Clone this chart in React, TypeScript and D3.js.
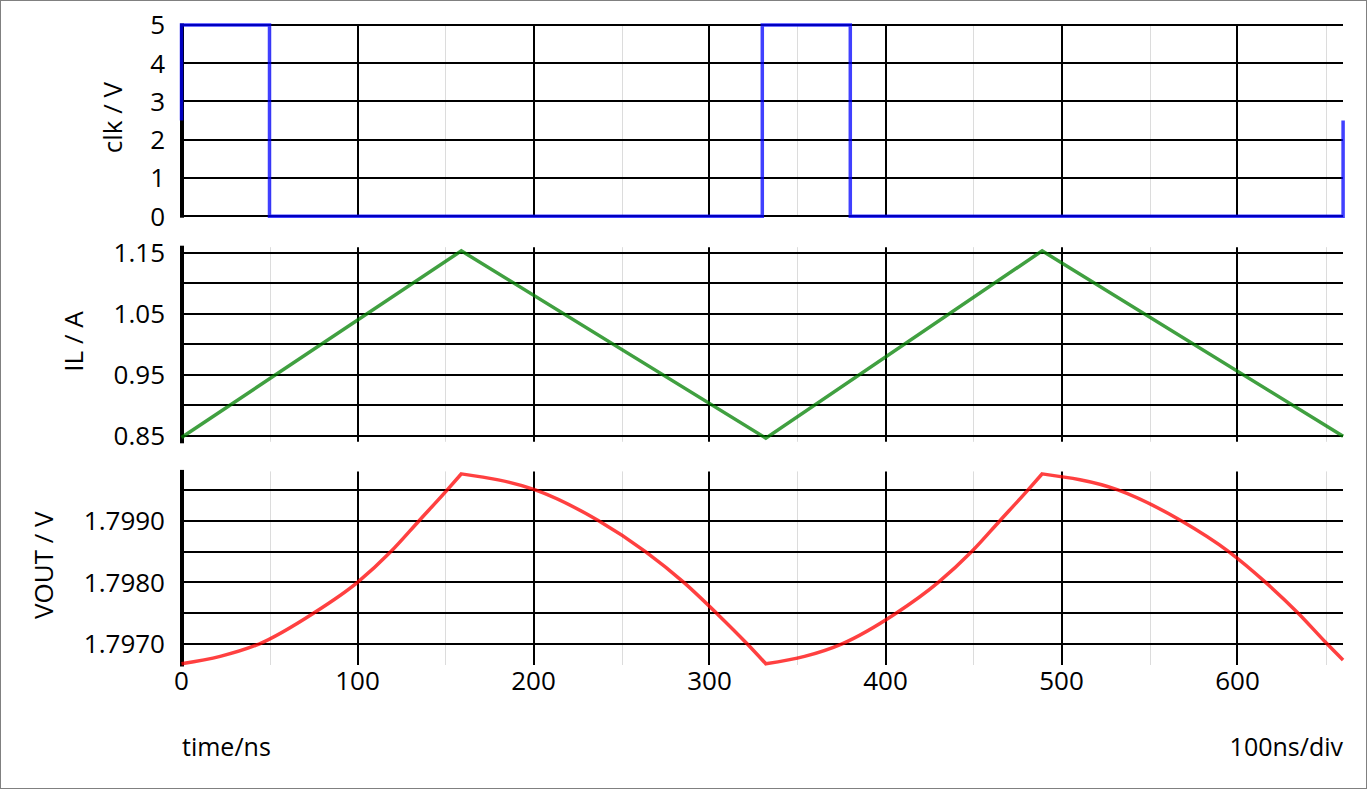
import React from "react";
import * as d3 from "d3";

const W = 1369;
const H = 790;

// time axis
const xTicks = [0, 100, 200, 300, 400, 500, 600];
const xMinorTicks = [50, 150, 250, 350, 450, 550, 650];

// clk
const clkT = [0, 0, 50, 50, 330, 330, 380, 380, 660, 660];
const clkV = [2.5, 5, 5, 0, 0, 5, 5, 0, 0, 2.5];
const clkGrid = [0, 1, 2, 3, 4, 5];
const clkLabels = [0, 1, 2, 3, 4, 5];

// IL
const ilT = [0, 159, 332, 489, 660];
const ilV = [0.847, 1.153, 0.846, 1.153, 0.849];
const ilGrid = [0.85, 0.9, 0.95, 1.0, 1.05, 1.1, 1.15];
const ilLabels = [0.85, 0.95, 1.05, 1.15];

// VOUT (segments split at turning points)
const voT = [
  0, 22, 44, 75, 100, 119, 135, 151, 159,
  201, 237, 263.6, 285.4, 304, 321.5, 332,
  354, 375, 406, 430, 449, 465, 481, 489,
  532, 568, 595, 616, 634.5, 651, 660,
];
const voV = [
  1.79668, 1.7968, 1.797, 1.7975, 1.798, 1.7985, 1.799, 1.7995, 1.79976,
  1.7995, 1.799, 1.7985, 1.798, 1.7975, 1.797, 1.79668,
  1.7968, 1.797, 1.7975, 1.798, 1.7985, 1.799, 1.7995, 1.79976,
  1.7995, 1.799, 1.7985, 1.798, 1.7975, 1.797, 1.79674,
];
const voBreaks = [8, 15, 23];
const voGrid = [1.797, 1.7975, 1.798, 1.7985, 1.799, 1.7995];
const voLabels = [1.797, 1.798, 1.799];

const FONT = "'Open Sans', 'Noto Sans', sans-serif";

type Panel = {
  title: string;
  titleX: number;
  domain: [number, number];
  range: [number, number];
  grid: number[];
  labels: number[];
  fmt: (v: number) => string;
  t: number[];
  v: number[];
  breaks: number[];
  color: string;
  curve: any;
};

export default function App() {
  const x = d3.scaleLinear().domain([0, 660]).range([181.5, 1343.1]);
  const x0 = 182;
  const x1 = 1343;

  const panels: Panel[] = [
    {
      title: "clk / V",
      titleX: 122,
      domain: [0, 5],
      range: [216.2, 25],
      grid: clkGrid,
      labels: clkLabels,
      fmt: d3.format("d"),
      t: clkT,
      v: clkV,
      breaks: [],
      color: "#0000ff",
      curve: d3.curveLinear,
    },
    {
      title: "IL / A",
      titleX: 83,
      domain: [0.84, 1.159],
      range: [441.8, 247.2],
      grid: ilGrid,
      labels: ilLabels,
      fmt: d3.format(".2f"),
      t: ilT,
      v: ilV,
      breaks: [],
      color: "#008000",
      curve: d3.curveLinear,
    },
    {
      title: "VOUT / V",
      titleX: 53,
      domain: [1.79666, 1.7998],
      range: [665, 471.4],
      grid: voGrid,
      labels: voLabels,
      fmt: d3.format(".4f"),
      t: voT,
      v: voV,
      breaks: voBreaks,
      color: "#ff0000",
      curve: d3.curveMonotoneX,
    },
  ];

  return (
    <svg
      width={W}
      height={H}
      style={{ position: "fixed", left: 0, top: 0, background: "#fff" }}
      fontFamily={FONT}
    >
      <rect x={0} y={0} width={W} height={H} fill="#fff" />
      <rect x={0.5} y={0.5} width={1366} height={788} fill="none" stroke="#808080" strokeWidth={1} />
      {panels.map((p, i) => {
        const y = d3.scaleLinear().domain(p.domain).range(p.range);
        const top = p.range[1];
        const bot = p.range[0];
        const pts = p.t.map((t, k) => [t, p.v[k]] as [number, number]);
        const line = d3
          .line<[number, number]>()
          .x((d) => x(d[0]))
          .y((d) => y(d[1]))
          .curve(p.curve);
        const cuts = [0, ...p.breaks, pts.length - 1];
        let d = "";
        for (let s = 0; s < cuts.length - 1; s++) {
          const seg = pts.slice(cuts[s], cuts[s + 1] + 1);
          const part = line(seg) || "";
          d += s === 0 ? part : part.replace(/^M/, "L");
        }
        const cy = (top + bot) / 2 - 3;
        return (
          <g key={i}>
            {xMinorTicks.map((t) => (
              <line key={"m" + t} x1={Math.round(x(t)) + 0.5} x2={Math.round(x(t)) + 0.5} y1={top} y2={bot} stroke="#dcdcdc" strokeWidth={1} />
            ))}
            {p.grid.map((g) => (
              <line key={"g" + g} x1={x0} x2={x1} y1={Math.round(y(g))} y2={Math.round(y(g))} stroke="#000" strokeWidth={2} />
            ))}
            {xTicks.slice(1).map((t) => (
              <line key={"v" + t} x1={Math.round(x(t))} x2={Math.round(x(t))} y1={top} y2={bot} stroke="#000" strokeWidth={2} />
            ))}
            <line x1={182} x2={182} y1={top - 1.5} y2={bot + 1.5} stroke="#000" strokeWidth={4} />
            {p.labels.map((l) => (
              <text key={"l" + l} x={165} y={y(l)} dy="0.36em" textAnchor="end" fontSize={26} fill="#000">
                {p.fmt(l)}
              </text>
            ))}
            <text
              transform={`translate(${p.titleX},${cy}) rotate(-90)`}
              textAnchor="middle"
              fontSize={26}
              fill="#000"
            >
              {p.title}
            </text>
            <path d={d} fill="none" stroke={p.color} strokeOpacity={0.75} strokeWidth={3.5} strokeLinejoin="miter" />
          </g>
        );
      })}
      {xTicks.map((t) => (
        <text key={"x" + t} x={x(t)} y={681} dy="0.36em" textAnchor="middle" fontSize={26} fill="#000">
          {t}
        </text>
      ))}
      <text x={182} y={756} fontSize={25} fill="#000">
        time/ns
      </text>
      <text x={1343} y={756} fontSize={25} textAnchor="end" fill="#000">
        100ns/div
      </text>
    </svg>
  );
}
